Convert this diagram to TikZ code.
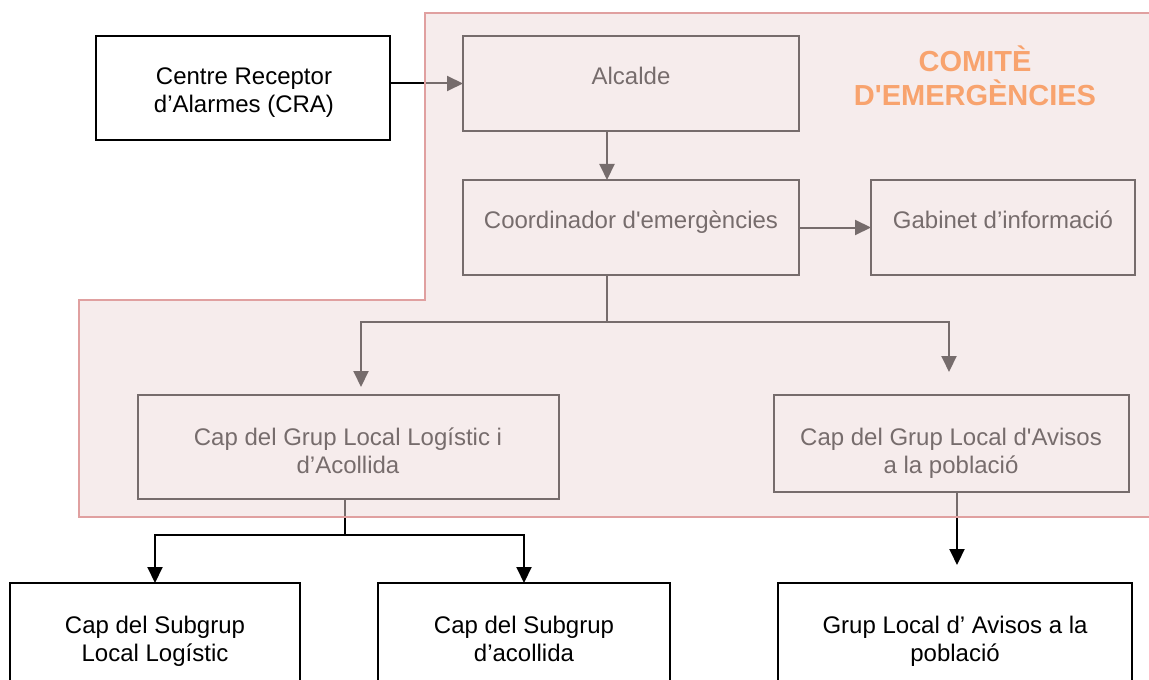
\documentclass[tikz,border=0pt]{standalone}
\usepackage{fontspec}
\setmainfont{Liberation Sans}
\usetikzlibrary{arrows.meta}
\definecolor{ovl}{HTML}{EDD9D9}
\definecolor{rbord}{HTML}{E0A0A0}
\definecolor{orng}{HTML}{F8A36E}
\begin{document}
\begin{tikzpicture}[x=0.5pt,y=-0.5pt,
  box/.style={draw=black,line width=0.8pt,anchor=north west,inner sep=0pt,outer sep=0pt},
  txt/.style={anchor=base,inner sep=0pt,align=center,font=\fontsize{12pt}{14pt}\selectfont},
  arr/.style={draw=black,line width=1pt,-{Triangle[length=8pt,width=7.5pt]}},
  ln/.style={draw=black,line width=1pt}]
\path[use as bounding box] (0,0) rectangle (1149,679);
\clip (0,0) rectangle (1149,679);
% boxes
\node[box,minimum width=147pt,minimum height=52pt] (cra) at (96,36) {};
\node[box,minimum width=168pt,minimum height=47.5pt] (alc) at (463,36) {};
\node[box,minimum width=168pt,minimum height=47.5pt] (coord) at (463,180) {};
\node[box,minimum width=132pt,minimum height=47.5pt] (gab) at (871,180) {};
\node[box,minimum width=210.5pt,minimum height=52pt] (logi) at (138,395) {};
\node[box,minimum width=177.5pt,minimum height=48.5pt] (avis) at (774,395) {};
\node[box,minimum width=145pt,minimum height=60pt] (sub1) at (10,583) {};
\node[box,minimum width=146pt,minimum height=60pt] (sub2) at (378,583) {};
\node[box,minimum width=177pt,minimum height=60pt] (grup) at (778,583) {};
% texts (base = baseline of last line)
\node[txt] (tcra) at (244,113) {Centre Receptor\\d’Alarmes (CRA)};
\node[txt] (talc) at (631,85) {Alcalde};
\node[txt] (tcoord) at (631,228) {Coordinador d\textquotesingle emergències};
\node[txt] (tgab) at (1003,228) {Gabinet d’informació};
\node[txt] (tlogi) at (348,473) {Cap del Grup Local Logístic i\\d’Acollida};
\node[txt] (tavis) at (951,473) {Cap del Grup Local d\textquotesingle Avisos\\a la població};
\node[txt] (tsub1) at (155,661) {Cap del Subgrup\\Local Logístic};
\node[txt] (tsub2) at (524,661) {Cap del Subgrup\\d’acollida};
\node[txt] (tgrup) at (955,661) {Grup Local d’ Avisos a la\\població};
% helper coordinates
\coordinate (xa) at (607,0);
\coordinate (jc) at (607,322);
\coordinate (tipl) at (361,387);
\coordinate (tipr) at (949,372);
\coordinate (xl) at (345,0);
\coordinate (jl) at (345,535);
\coordinate (xg) at (957,0);
\coordinate (tipg) at (957,565);
% connectors
\draw[arr] (cra.east |- alc.west) -- (alc.west);
\draw[arr] (alc.south -| xa) -- (coord.north -| xa);
\draw[arr] (coord.east) -- (gab.west);
\draw[ln] (coord.south -| xa) -- (jc);
\draw[arr] (jc) -| (tipl);
\draw[arr] (jc) -| (tipr);
\draw[ln] (logi.south -| xl) -- (jl);
\draw[arr] (jl) -| (sub1.north);
\draw[arr] (jl) -| (sub2.north);
\draw[arr] (avis.south -| xg) -- (tipg);
% comite overlay
\fill[ovl,fill opacity=0.5] (425,13) -- (1160,13) -- (1160,517) -- (79,517) -- (79,300) -- (425,300) -- cycle;
\draw[rbord,line width=1pt] (1160,13) -- (425,13) -- (425,300) -- (79,300) -- (79,517) -- (1160,517);
\node[anchor=base,inner sep=0pt,align=center,text=orng,font=\fontsize{14.5pt}{17pt}\selectfont\bfseries] (comite) at (975,106) {COMITÈ\\D\textquotesingle EMERGÈNCIES};
\end{tikzpicture}
\end{document}
